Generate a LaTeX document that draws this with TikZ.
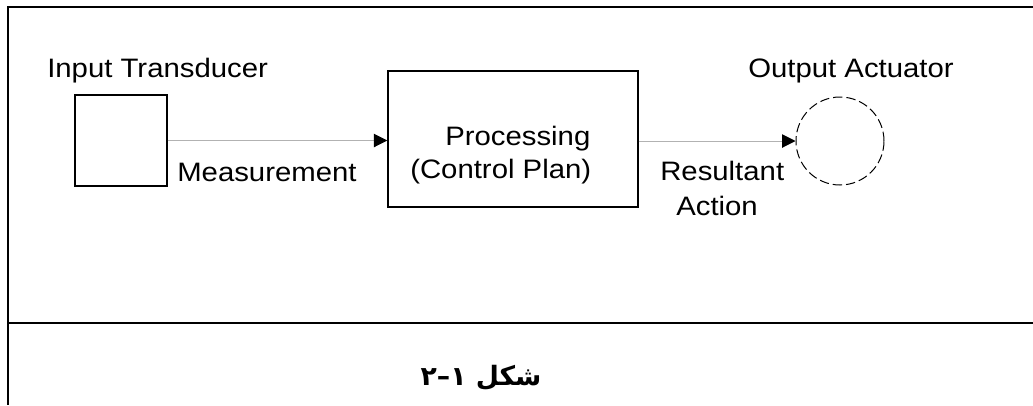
\documentclass[tikz,border=0pt]{standalone}
\usepackage{fontspec}
\setmainfont{Liberation Sans}[FakeStretch=1.1]
\newfontfamily\arabicfont[Script=Arabic]{DejaVu Sans}
\TeXXeTstate=1
\usetikzlibrary{arrows.meta}

\begin{document}
\begin{tikzpicture}[x=0.75pt,y=-0.75pt,
  frameline/.style={line width=1.8pt,black},
  block/.style={draw,line width=1.1pt,inner sep=0},
  lbl/.style={inner sep=0,anchor=base west,font=\fontsize{20}{24}\selectfont},
  flow/.style={draw=gray!60,line width=0.75pt,
    -{Triangle[length=10pt,width=10pt,color=black]}},
  actuator/.style={circle,draw,line width=0.75pt,dash pattern=on 7pt off 3pt,
    minimum size=66pt,inner sep=0}]
\useasboundingbox (0,0) rectangle (1033,405);

% outer frame and caption separator
\coordinate (tl) at (8,7);
\coordinate (tr) at (1033,7);
\coordinate (bl) at (8,405);
\coordinate (ml) at (8,323);
\coordinate (mr) at (1033,323);
\draw[frameline] (tr) -- (tl) -- (bl);
\draw[frameline] (ml) -- (mr);

% blocks
\node[block,minimum width=69pt,minimum height=68.25pt] (inbox) at (121,140.5) {};
\node[block,minimum width=187.5pt,minimum height=102pt] (proc) at (513,139) {};
\node[actuator] (act) at (840,141) {};

% signal paths
\draw[flow] (inbox.east) -- (inbox.east -| proc.west);
\draw[flow] (act.west -| proc.east) -- (act.west);

% labels
\node[lbl] (tIn) at (47,77) {Input Transducer};
\node[lbl] (tMeas) at (177,181) {Measurement};
\node[lbl] (tProc) at (445,145) {Processing};
\node[lbl] (tPlan) at (410,178) {(Control Plan)};
\node[lbl] (tOut) at (748,77) {Output Actuator};
\node[lbl] (tRes) at (660,180) {Resultant};
\node[lbl] (tAct) at (676,215) {Action};

% caption
\node[inner sep=0,anchor=base] (cap) at (481,385)
  {\arabicfont\bfseries\fontsize{20}{24}\selectfont\beginR شکل ۱–۲\endR};
\end{tikzpicture}
\end{document}
